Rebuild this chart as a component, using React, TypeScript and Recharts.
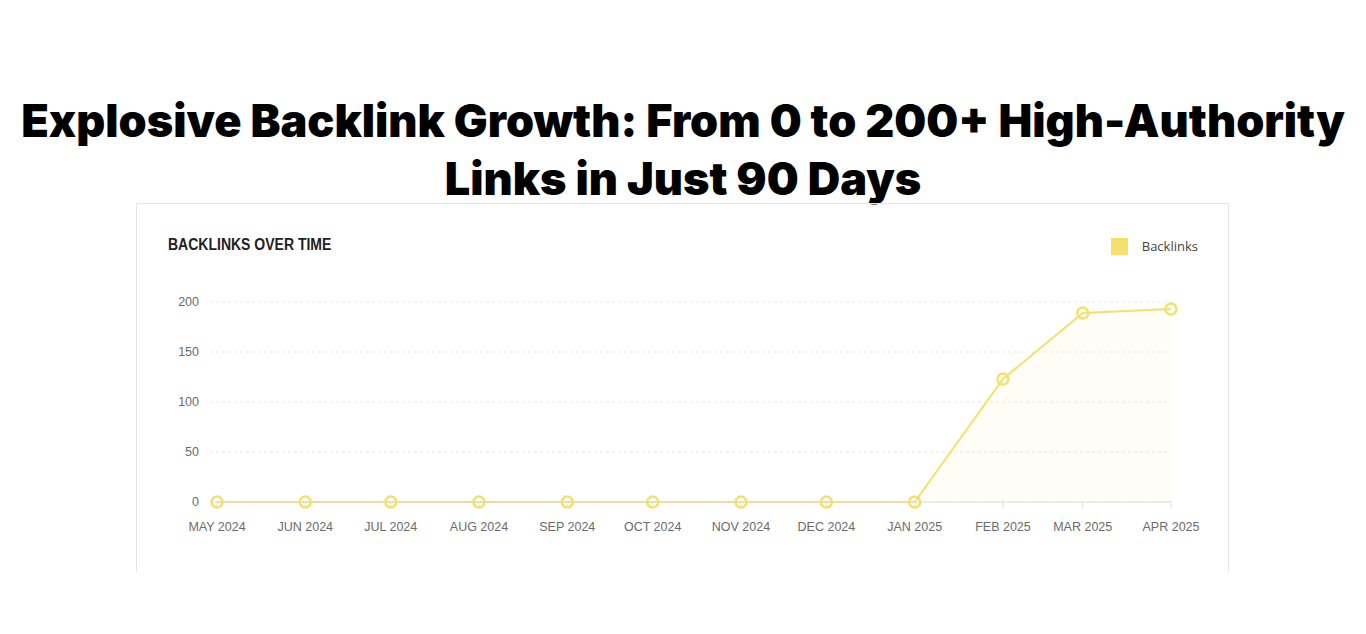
import { ComposedChart, Area, XAxis, YAxis, CartesianGrid } from 'recharts';

// month starts (UTC) and backlink counts
const months = [
  '2024-05-01', '2024-06-01', '2024-07-01', '2024-08-01', '2024-09-01', '2024-10-01',
  '2024-11-01', '2024-12-01', '2025-01-01', '2025-02-01', '2025-03-01', '2025-04-01',
];
const monthLabels = [
  'MAY 2024', 'JUN 2024', 'JUL 2024', 'AUG 2024', 'SEP 2024', 'OCT 2024',
  'NOV 2024', 'DEC 2024', 'JAN 2025', 'FEB 2025', 'MAR 2025', 'APR 2025',
];
const backlinks = [0, 0, 0, 0, 0, 0, 0, 0, 0, 123, 189, 193];
const yTicks = [0, 50, 100, 150, 200];

const LINE = '#f4e06b';

const times = months.map((m) => Date.parse(m + 'T00:00:00Z'));
const data = times.map((t, i) => ({ t, backlinks: backlinks[i] }));
const labelFor = (t: number) => monthLabels[times.indexOf(t)] ?? '';

const tickStyle = { fill: '#6b6b6b', fontSize: 12.5, fontFamily: '"Liberation Sans", Arial, sans-serif' };

export default function App() {
  return (
    <div style={{ position: 'absolute', left: 0, top: 0, width: 1366, height: 634, background: '#fff', overflow: 'hidden' }}>
      <div
        style={{
          position: 'absolute',
          left: 0,
          top: 92,
          width: 1366,
          textAlign: 'center',
          fontFamily: 'Inter, sans-serif',
          fontWeight: 900,
          fontSize: 45,
          lineHeight: '58px',
          color: '#000',
        }}
      >
        Explosive Backlink Growth: From 0 to 200+ High-Authority
        <br />
        Links in Just 90 Days
      </div>

      <div
        style={{
          position: 'absolute',
          left: 136,
          top: 203,
          width: 1091,
          height: 368,
          borderTop: '1px solid #e6e6e6',
          borderLeft: '1px solid #e6e6e6',
          borderRight: '1px solid #e6e6e6',
        }}
      >
        <div
          style={{
            position: 'absolute',
            left: 31,
            top: 32,
            fontFamily: '"Liberation Sans", sans-serif',
            fontWeight: 700,
            fontSize: 16,
            color: '#222',
            whiteSpace: 'nowrap',
            transform: 'scaleX(0.875)',
            transformOrigin: 'left center',
          }}
        >
          BACKLINKS OVER TIME
        </div>

        <div
          style={{
            position: 'absolute',
            right: 30,
            top: 33,
            display: 'flex',
            alignItems: 'center',
            fontFamily: '"Open Sans", sans-serif',
            fontSize: 13,
            color: '#444',
          }}
        >
          <span style={{ width: 17, height: 17, background: LINE, display: 'inline-block', marginRight: 14 }} />
          Backlinks
        </div>

        <ComposedChart width={1091} height={367} data={data} margin={{ top: 98, right: 57, bottom: 0, left: 42 }}>
          <CartesianGrid vertical={false} stroke="#e9e9e9" strokeDasharray="3 3" />
          <XAxis
            dataKey="t"
            type="number"
            scale="time"
            domain={['dataMin', 'dataMax']}
            ticks={times}
            tickFormatter={labelFor}
            padding={{ left: 7, right: 0 }}
            interval={0}
            axisLine={{ stroke: '#dedede' }}
            tickLine={{ stroke: '#dedede' }}
            tickSize={6}
            tickMargin={14}
            tick={tickStyle}
            height={69}
          />
          <YAxis
            domain={[0, 200]}
            ticks={yTicks}
            axisLine={false}
            tickLine={false}
            tickMargin={5}
            width={31}
            tick={tickStyle}
          />
          <Area
            type="linear"
            dataKey="backlinks"
            stroke={LINE}
            strokeWidth={2}
            fill={LINE}
            fillOpacity={0.06}
            dot={{ r: 5.5, fill: '#fff', stroke: LINE, strokeWidth: 2.5 }}
            activeDot={false}
            isAnimationActive={false}
          />
        </ComposedChart>
      </div>
    </div>
  );
}
